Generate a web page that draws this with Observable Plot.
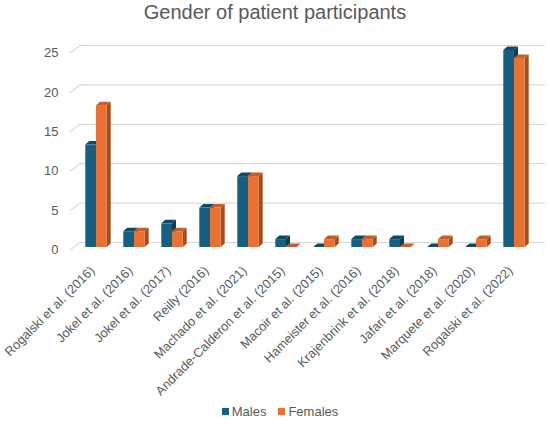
<!DOCTYPE html>
<html>
<head>
<meta charset="utf-8">
<script src="https://cdn.jsdelivr.net/npm/d3@7"></script>
<script src="https://cdn.jsdelivr.net/npm/@observablehq/plot@0.6"></script>
<style>
  body { margin: 0; background: #fff; font-family: "Liberation Sans", Arial, sans-serif; }
  #title { height: 24px; line-height: 24px; text-align: center; font-size: 20px; color: #595959; }
  #legend { display: flex; justify-content: center; align-items: center; height: 14px; font-size: 13px; color: #595959; padding-left: 10px; }
  #legend .sw { display: inline-block; width: 7px; height: 7px; margin-right: 3px; }
  #legend .item { display: flex; align-items: center; margin: 0 6px; }
</style>
</head>
<body>
<div id="title">Gender of patient participants</div>
<div id="chart"></div>
<div id="legend"></div>
<script>
const categories = [
  "Rogalski et al. (2016)", "Jokel et al. (2016)", "Jokel et al. (2017)", "Reilly (2016)",
  "Machado et al. (2021)", "Andrade-Calderon et al. (2015)", "Macoir et al. (2015)",
  "Hameister et al. (2016)", "Krajenbrink et al. (2018)", "Jafari et al. (2018)",
  "Marquete et al. (2020)", "Rogalski et al. (2022)"
];
const males   = [13, 2, 3, 5, 9, 1, 0, 1, 1, 0, 0, 25];
const females = [18, 2, 2, 5, 9, 0, 1, 1, 0, 1, 1, 24];
const yTicks = [0, 5, 10, 15, 20, 25];
const seriesNames = ["Males", "Females"];
const seriesColors = ["#156082", "#E97132"];
const seriesTops = ["#0F4A66", "#C35F28"];
const seriesSides = ["#0C3D54", "#A24F20"];

const rows = categories.map((c, i) => ({cat: c, males: males[i], females: females[i]}));

const W = 550, H = 380, mL = 74, mR = 15, mT = 26, mB = 157;
const barW = 10.7, depthX = 4, depthY = 3.5;

const NS = "http://www.w3.org/2000/svg";
function el(tag, attrs) {
  const e = document.createElementNS(NS, tag);
  for (const k in attrs) e.setAttribute(k, attrs[k]);
  return e;
}

// grid (back plane) with perspective ticks on the left
function gridMark(index, scales, values, dims) {
  const g = el("g", {});
  for (const v of yTicks) {
    const y = scales.y(v);
    g.appendChild(el("line", {x1: dims.marginLeft + 6, x2: dims.width - 5, y1: y - 4.5, y2: y - 4.5, stroke: "#d9d9d9", "stroke-width": 1.2}));
    g.appendChild(el("line", {x1: dims.marginLeft - 4, x2: dims.marginLeft + 6, y1: y + 3, y2: y - 4.5, stroke: "#d9d9d9", "stroke-width": 1.2}));
  }
  return g;
}

// 3D bars
function barsMark(index, scales, values, dims) {
  const g = el("g", {});
  const bw = scales.x.bandwidth();
  const y0 = scales.y(0);
  rows.forEach(r => {
    const cx = scales.x(r.cat) + bw / 2;
    [["males", 0, cx - barW], ["females", 1, cx]].forEach(([key, s, x0]) => {
      const x1 = x0 + barW;
      const yt = scales.y(r[key]);
      g.appendChild(el("polygon", {points: `${x1},${yt} ${x1 + depthX},${yt - depthY} ${x1 + depthX},${y0 - depthY} ${x1},${y0}`, fill: seriesSides[s]}));
      g.appendChild(el("polygon", {points: `${x0},${yt} ${x0 + depthX},${yt - depthY} ${x1 + depthX},${yt - depthY} ${x1},${yt}`, fill: seriesTops[s]}));
      if (y0 - yt > 0) g.appendChild(el("rect", {x: x0, y: yt, width: barW, height: y0 - yt, fill: seriesColors[s]}));
    });
  });
  return g;
}

const plot = Plot.plot({
  width: W, height: H,
  marginLeft: mL, marginRight: mR, marginTop: mT, marginBottom: mB,
  style: {fontFamily: "Liberation Sans, Arial, sans-serif", color: "#595959", background: "#fff"},
  x: {type: "band", domain: categories, padding: 0, label: null},
  y: {domain: [0, 25], label: null},
  marks: [
    gridMark,
    Plot.axisY({ticks: yTicks, tickSize: 0, tickPadding: 16, fontSize: 13, fill: "#595959", dy: 2.5}),
    Plot.axisX({tickSize: 0, tickRotate: -45, tickPadding: 21, fontSize: 12.8, fill: "#595959", dx: -4}),
    barsMark
  ]
});
document.getElementById("chart").appendChild(plot);

const legend = document.getElementById("legend");
legend.innerHTML = seriesNames.map((n, i) =>
  `<span class="item"><span class="sw" style="background:${seriesColors[i]}"></span>${n}</span>`).join("");
</script>
</body>
</html>
